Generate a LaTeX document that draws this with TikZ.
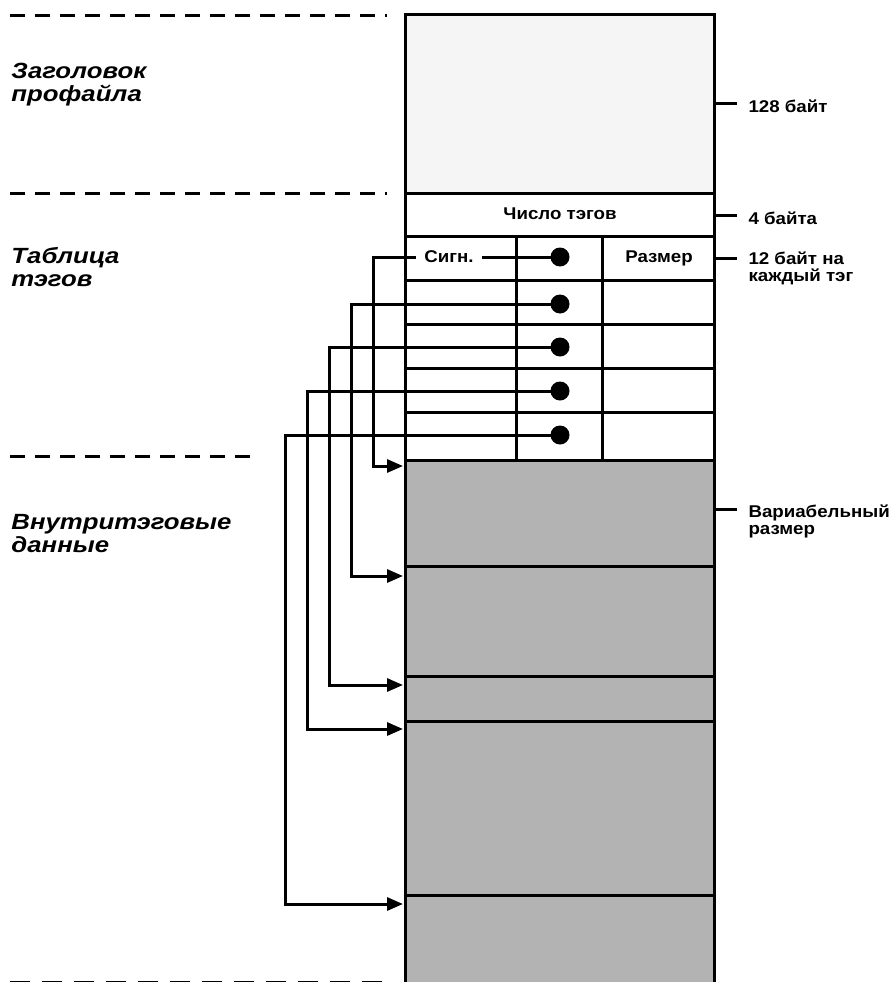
\documentclass[tikz,border=0pt]{standalone}
\usepackage{fontspec}
\setmainfont{Liberation Sans}[FakeStretch=1.1]
\newfontfamily\secfont{Liberation Sans}[FakeStretch=1.17]
\usetikzlibrary{calc, arrows.meta, positioning}
\definecolor{hdrgray}{HTML}{F5F5F5}
\definecolor{datagray}{HTML}{B3B3B3}

\begin{document}
\begin{tikzpicture}[x=1pt, y=-1pt, line width=3pt,
    seclabel/.style={font=\secfont\bfseries\itshape\fontsize{22}{22.5}\selectfont, align=left, anchor=north west, inner sep=0pt},
    sizenote/.style={font=\bfseries\fontsize{17}{17.5}\selectfont, align=left, anchor=north west, inner sep=0pt},
    celltext/.style={font=\bfseries\fontsize{17}{18}\selectfont},
    tagdot/.style={circle, fill=black, inner sep=0pt, minimum size=19pt},
    ptr/.style={-{Triangle[length=16pt, width=13pt]}, shorten >=2pt},
    sepline/.style={dash pattern=on 15pt off 10pt}]
  \useasboundingbox (0,0) rectangle (889,982);

  % section separators
  \draw[sepline] (10,16) -- (387,16);
  \draw[sepline] (10,193) -- (387,193);
  \draw[sepline] (10,456) -- (252,456);
  \draw[dash pattern=on 20pt off 12pt] (10,982) -- (384,982);

  % section names
  \node[seclabel] (hdrname) at (10,62) {Заголовок\\профайла};
  \node[seclabel] (tblname) at (10,246) {Таблица\\тэгов};
  \node[seclabel] (dataname) at (10,513) {Внутритэговые\\данные};

  % profile header and tag count
  \draw[fill=hdrgray] (405,15) rectangle (714,193);
  \draw (405,193) rectangle (714,236);
  \node[celltext] (count) at (560,214) {Число тэгов};

  % tag table
  \foreach \t/\b in {236/280, 280/324, 324/368, 368/412, 412/460}
    \draw (405,\t) rectangle (714,\b);
  \draw (516,236) -- (516,460) (602,236) -- (602,460);
  \node[celltext] (size) at (659,258) {Размер};

  % tagged element data
  \foreach \t/\b/\o [count=\i] in {460/566/6, 566/676/10, 676/721/9, 721/895/8, 895/1000/9} {
    \draw[fill=datagray] (405,\t) rectangle (714,\b);
    \coordinate (blk\i) at (405,\t+\o);
  }

  % offsets
  \foreach \y [count=\i] in {257, 304, 347, 391, 435}
    \node[tagdot] (dot\i) at (560,\y) {};
  \foreach \x [count=\i] in {-32, -54, -76, -98, -120}
    \draw[ptr] (dot\i.center) -| ([xshift=\x pt]blk\i) -- (blk\i);
  \node[celltext, fill=white, inner xsep=8pt, inner ysep=2pt] (sig) at (449,257) {Сигн.};

  % sizes
  \draw (714,103) -- (737,103);
  \node[sizenote] (n128) at (747,98) {128 байт};
  \draw (714,215) -- (737,215);
  \node[sizenote] (n4) at (747,210) {4 байта};
  \draw (714,258) -- (737,258);
  \node[sizenote] (n12) at (747,250) {12 байт на\\каждый тэг};
  \draw (714,509) -- (737,509);
  \node[sizenote] (nvar) at (747,503) {Вариабельный\\размер};
\end{tikzpicture}
\end{document}
